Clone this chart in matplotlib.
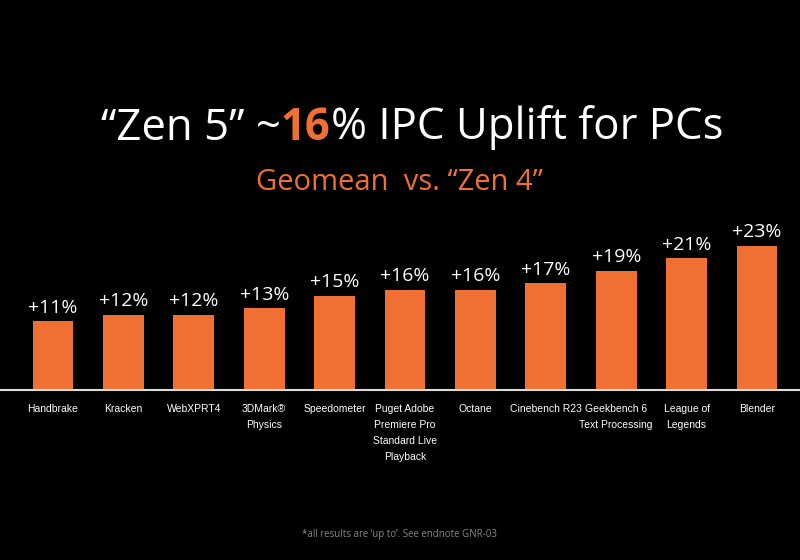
import matplotlib
matplotlib.use("Agg")
import matplotlib.pyplot as plt
from matplotlib.offsetbox import TextArea, HPacker, AnchoredOffsetbox

categories = ["Handbrake", "Kracken", "WebXPRT4", "3DMark®\nPhysics", "Speedometer",
              "Puget Adobe\nPremiere Pro\nStandard Live\nPlayback", "Octane", "Cinebench R23",
              "Geekbench 6\nText Processing", "League of\nLegends", "Blender"]
values = [11, 12, 12, 13, 15, 16, 16, 17, 19, 21, 23]
labels = ["+11%", "+12%", "+12%", "+13%", "+15%", "+16%", "+16%", "+17%", "+19%", "+21%", "+23%"]

W, H = 800, 560
fig = plt.figure(figsize=(8, 5.6), dpi=100, facecolor="black")
orange = "#F07033"
font = "Open Sans"

ax = fig.add_axes([0, (H - 390) / H, 1, 157 / H])
ax.set_facecolor("black")
x = list(range(len(values)))
ax.bar(x, values, width=0.58, color=orange)
ax.set_xlim(-53 / 70.4, (800 - 53) / 70.4)
ax.set_ylim(0, 25)
for i, (v, l) in enumerate(zip(values, labels)):
    ax.text(i, v + 0.7, l, ha="center", va="bottom", color="white", fontsize=14, family=font)
for s in ["top", "right", "left"]:
    ax.spines[s].set_visible(False)
ax.spines["bottom"].set_color("#dddddd")
ax.spines["bottom"].set_linewidth(1.5)
ax.set_yticks([])
ax.set_xticks(x)
ax.set_xticklabels(categories, color="white", fontsize=7.5, family="Liberation Sans",
                   linespacing=1.75)
ax.tick_params(axis="x", length=0, pad=10)

tp = dict(fontsize=31.5, family=font)
parts = [TextArea("\u201cZen 5\u201d ~", textprops=dict(color="white", **tp)),
         TextArea("16", textprops=dict(color=orange, weight="bold", **tp)),
         TextArea("% IPC Uplift for PCs", textprops=dict(color="white", **tp))]
box = HPacker(children=parts, align="baseline", pad=0, sep=0)
ab = AnchoredOffsetbox(loc="center", child=box, frameon=False, pad=0, borderpad=0,
                       bbox_to_anchor=(0.515, 1 - 128 / H), bbox_transform=fig.transFigure)
fig.add_artist(ab)
fig.text(0.5, 1 - 182 / H, "Geomean  vs. \u201cZen 4\u201d", color=orange, fontsize=21,
         family=font, ha="center", va="center")
fig.text(0.5, 1 - 535 / H, "*all results are \u2018up to\u2019. See endnote GNR-03", color="#888888",
         fontsize=7, family=font, ha="center", va="center")
fig.savefig("out.png", facecolor="black")
